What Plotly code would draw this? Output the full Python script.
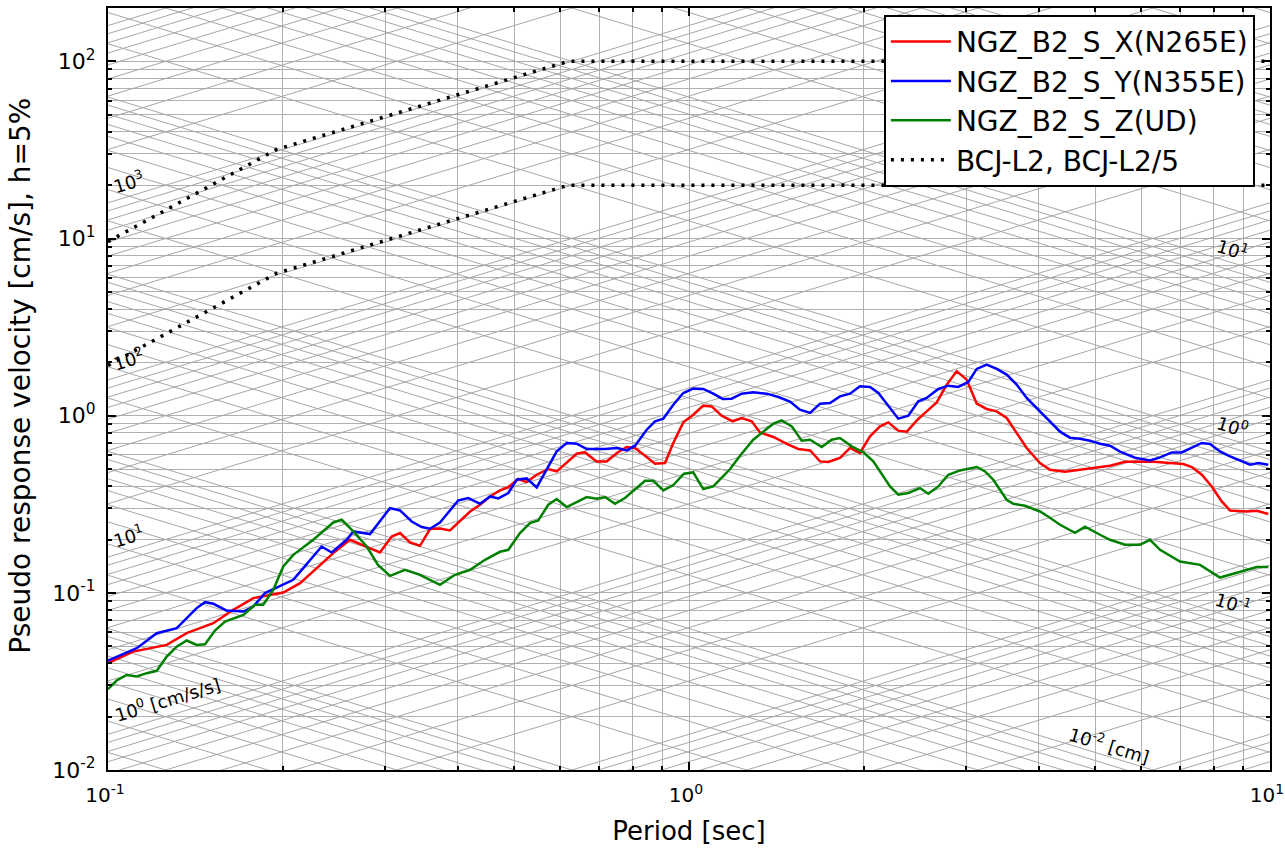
import numpy as np
import plotly.graph_objects as go

# ---------------- data ----------------
period_x = [0.100, 0.1105, 0.1262, 0.1366, 0.1518, 0.1643, 0.1779, 0.2003, 0.2141, 0.2287,
            0.2442, 0.2609, 0.2788, 0.2938, 0.3078, 0.3181, 0.3310, 0.3443, 0.3583, 0.3727,
            0.3878, 0.4035, 0.4200, 0.4369, 0.4545, 0.4728, 0.4887, 0.5084, 0.5256, 0.5469,
            0.5726, 0.5920, 0.6159, 0.6408, 0.6622, 0.6936, 0.7217, 0.7514, 0.7813, 0.8075,
            0.8401, 0.8740, 0.9093, 0.9397, 0.9777, 1.017, 1.058, 1.094, 1.138, 1.189,
            1.232, 1.282, 1.325, 1.397, 1.473, 1.542, 1.616, 1.681, 1.737, 1.819,
            1.893, 1.969, 2.049, 2.132, 2.203, 2.292, 2.370, 2.481, 2.565, 2.669,
            2.777, 2.889, 3.006, 3.128, 3.254, 3.385, 3.522, 3.664, 3.812, 4.019,
            4.181, 4.438, 4.710, 4.999, 5.304, 5.630, 6.216, 6.730, 7.094, 7.335,
            7.632, 7.938, 8.259, 8.535, 9.120, 9.488, 9.933]
psv_x = [0.0401, 0.0466, 0.0508, 0.0592, 0.0674, 0.0802, 0.0934, 0.1004, 0.1134, 0.1379,
         0.1676, 0.1993, 0.1826, 0.1689, 0.2080, 0.2175, 0.1924, 0.1843, 0.2290, 0.2308,
         0.2249, 0.2528, 0.2879, 0.3142, 0.3500, 0.3784, 0.3955, 0.4390, 0.4222, 0.4642,
         0.5000, 0.4846, 0.5448, 0.6100, 0.6205, 0.5519, 0.5519, 0.6156, 0.6657, 0.6571,
         0.5943, 0.5356, 0.5405, 0.7013, 0.9166, 1.013, 1.139, 1.128, 1.000, 0.9286,
         0.9706, 0.9286, 0.8046, 0.7582, 0.6921, 0.6486, 0.6368, 0.5519, 0.5475, 0.5768,
         0.6571, 0.6156, 0.7641, 0.8700, 0.9166, 0.8229, 0.8123, 0.9581, 1.057, 1.189,
         1.497, 1.780, 1.597, 1.169, 1.091, 1.057, 0.9706, 0.7988, 0.6571, 0.5405,
         0.4954, 0.4827, 0.4954, 0.5084, 0.5218, 0.5497, 0.5519, 0.5405, 0.5335, 0.5131,
         0.4642, 0.3986, 0.3280, 0.2917, 0.2879, 0.2906, 0.2784]

period_y = [0.100, 0.1121, 0.1213, 0.1313, 0.1421, 0.1469, 0.1518, 0.1601, 0.1710, 0.1779,
            0.1863, 0.2084, 0.2168, 0.2332, 0.2427, 0.2575, 0.2644, 0.2825, 0.3058, 0.3181,
            0.3332, 0.3467, 0.3583, 0.3727, 0.4008, 0.4171, 0.4369, 0.4545, 0.4697, 0.4887,
            0.5052, 0.5256, 0.5469, 0.5726, 0.5920, 0.6159, 0.6408, 0.6667, 0.7169, 0.7514,
            0.7813, 0.8075, 0.8457, 0.8740, 0.9032, 0.9397, 0.9777, 1.017, 1.058, 1.101,
            1.143, 1.184, 1.232, 1.290, 1.361, 1.425, 1.492, 1.552, 1.616, 1.681,
            1.749, 1.819, 1.893, 1.969, 2.049, 2.118, 2.203, 2.292, 2.385, 2.481,
            2.565, 2.686, 2.795, 2.907, 3.025, 3.128, 3.254, 3.385, 3.522, 3.664,
            3.812, 4.019, 4.181, 4.351, 4.526, 4.710, 4.900, 5.098, 5.304, 5.519,
            5.857, 6.216, 6.468, 6.775, 7.047, 7.335, 7.632, 7.883, 8.202, 8.535,
            8.881, 9.240, 9.548, 9.933]
psv_y = [0.0415, 0.0487, 0.0592, 0.0632, 0.0820, 0.0886, 0.0867, 0.0794, 0.0784, 0.0837,
         0.0996, 0.1184, 0.1379, 0.1826, 0.1689, 0.1993, 0.2220, 0.2146, 0.3010, 0.2917,
         0.2528, 0.2350, 0.2299, 0.2496, 0.3323, 0.3428, 0.3183, 0.3500, 0.3411, 0.3659,
         0.4349, 0.4424, 0.3934, 0.5171, 0.6286, 0.7013, 0.6949, 0.6486, 0.6486, 0.6571,
         0.6368, 0.6770, 0.8334, 0.9286, 0.9619, 1.154, 1.343, 1.421, 1.415, 1.331,
         1.243, 1.247, 1.331, 1.354, 1.331, 1.275, 1.200, 1.081, 1.036, 1.169,
         1.180, 1.285, 1.331, 1.464, 1.453, 1.343, 1.128, 0.9619, 1.000, 1.205,
         1.259, 1.415, 1.477, 1.453, 1.550, 1.836, 1.942, 1.836, 1.705, 1.497,
         1.259, 1.057, 0.9371, 0.8123, 0.7512, 0.7416, 0.7226, 0.6949, 0.6770, 0.6261,
         0.5790, 0.5591, 0.5813, 0.6205, 0.6205, 0.6622, 0.7013, 0.6921, 0.6286, 0.5890,
         0.5569, 0.5287, 0.5405, 0.5287]

period_z = [0.100, 0.1035, 0.1077, 0.1121, 0.1166, 0.1213, 0.1262, 0.1313, 0.1366, 0.1421,
            0.1469, 0.1528, 0.1590, 0.1710, 0.1791, 0.1850, 0.1925, 0.2003, 0.2084, 0.2256,
            0.2442, 0.2525, 0.2644, 0.2788, 0.2915, 0.3058, 0.3245, 0.3443, 0.3727, 0.3956,
            0.4200, 0.4456, 0.4728, 0.4887, 0.5118, 0.5324, 0.5503, 0.5726, 0.5920, 0.6159,
            0.6667, 0.6936, 0.7169, 0.7458, 0.7759, 0.8401, 0.8681, 0.9032, 0.9397, 0.9804,
            1.017, 1.058, 1.101, 1.177, 1.224, 1.290, 1.397, 1.444, 1.503, 1.563,
            1.616, 1.692, 1.760, 1.819, 1.906, 1.995, 2.076, 2.218, 2.292, 2.385,
            2.498, 2.582, 2.686, 2.795, 2.927, 3.128, 3.232, 3.340, 3.522, 3.616,
            3.787, 4.019, 4.181, 4.351, 4.617, 4.804, 5.098, 5.304, 5.630, 5.973,
            6.216, 6.468, 7.000, 7.579, 8.202, 8.881, 9.488, 9.933]
psv_z = [0.0286, 0.0320, 0.0344, 0.0337, 0.0352, 0.0363, 0.0437, 0.0497, 0.0538, 0.0508,
         0.0513, 0.0612, 0.0689, 0.0751, 0.0856, 0.0856, 0.1040, 0.1408, 0.1639, 0.1993,
         0.2496, 0.2585, 0.2220, 0.1826, 0.1439, 0.1247, 0.1349, 0.1264, 0.1110, 0.1264,
         0.1349, 0.1536, 0.1705, 0.1749, 0.2175, 0.2476, 0.2562, 0.3142, 0.3384, 0.3049,
         0.3473, 0.3397, 0.3473, 0.3183, 0.3428, 0.4293, 0.4293, 0.3784, 0.4060, 0.4702,
         0.4783, 0.3853, 0.3986, 0.5000, 0.5943, 0.7318, 0.9012, 0.9406, 0.8700, 0.7226,
         0.7318, 0.6657, 0.7318, 0.7482, 0.6709, 0.6205, 0.5519, 0.3986, 0.3579, 0.3659,
         0.3903, 0.3626, 0.3986, 0.4642, 0.4909, 0.5131, 0.4846, 0.4349, 0.3353, 0.3183,
         0.3101, 0.2879, 0.2652, 0.2423, 0.2183, 0.2360, 0.2127, 0.1993, 0.1867, 0.1867,
         0.1993, 0.1749, 0.1503, 0.1439, 0.1220, 0.1319, 0.1397, 0.1397]

bcj_period = [0.1, 0.195, 0.62, 10.0]
bcj_psv = [9.6, 31.8, 100.0, 100.0]
bcj_divisor = 5.0

series_names = ["NGZ_B2_S_X(N265E)", "NGZ_B2_S_Y(N355E)", "NGZ_B2_S_Z(UD)"]
series_colors = ["#ff0000", "#0000ff", "#008000"]
bcj_name = "BCJ-L2, BCJ-L2/5"

x_tickvals = [0.1, 1, 10]
x_ticktext = ["10<sup>-1</sup>", "10<sup>0</sup>", "10<sup>1</sup>"]
y_tickvals = [0.01, 0.1, 1, 10, 100]
y_ticktext = ["10<sup>-2</sup>", "10<sup>-1</sup>", "10<sup>0</sup>", "10<sup>1</sup>", "10<sup>2</sup>"]
x_title = "Period [sec]"
y_title = "Pseudo response velocity [cm/s], h=5%"

# tripartite grid: displacement [cm] and acceleration [cm/s/s] levels
disp_levels = [k * 10.0 ** n for n in range(-4, 4) for k in range(1, 10)]
acc_levels = [k * 10.0 ** n for n in range(-3, 5) for k in range(1, 10)]
acc_labels = [(1000, "10<sup>3</sup>"), (100, "10<sup>2</sup>"), (10, "10<sup>1</sup>"),
              (1, "10<sup>0</sup> [cm/s/s]")]
disp_labels = [(10, "10<sup>1</sup>"), (1, "10<sup>0</sup>"), (0.1, "10<sup>-1</sup>"),
               (0.01, "10<sup>-2</sup> [cm]")]

X_RANGE = (0.1, 10.0)
Y_RANGE = (0.01, 200.0)
FONT = "DejaVu Sans"
GRID = "#b0b0b0"
DIAG = "#a6a6a6"

fig = go.Figure()

# diagonal lines
tpi = 2 * np.pi
dx, dy = [], []
for d in disp_levels:
    for t in X_RANGE:
        dx.append(t); dy.append(tpi * d / t)
    dx.append(None); dy.append(None)
fig.add_trace(go.Scatter(x=dx, y=dy, mode="lines", line=dict(color=DIAG, width=1),
                         hoverinfo="skip", showlegend=False))
ax_, ay_ = [], []
for a in acc_levels:
    for t in X_RANGE:
        ax_.append(t); ay_.append(a * t / tpi)
    ax_.append(None); ay_.append(None)
fig.add_trace(go.Scatter(x=ax_, y=ay_, mode="lines", line=dict(color=DIAG, width=1),
                         hoverinfo="skip", showlegend=False))

# response spectra
for per, val, name, col in zip([period_x, period_y, period_z], [psv_x, psv_y, psv_z],
                               series_names, series_colors):
    fig.add_trace(go.Scatter(x=per, y=val, mode="lines", name=name,
                             line=dict(color=col, width=2.5)))

# BCJ-L2 design spectra
fig.add_trace(go.Scatter(x=bcj_period, y=bcj_psv, mode="lines", name=bcj_name,
                         line=dict(color="black", width=3.5, dash="3px,7px")))
fig.add_trace(go.Scatter(x=bcj_period, y=[v / bcj_divisor for v in bcj_psv], mode="lines",
                         name=bcj_name, showlegend=False,
                         line=dict(color="black", width=3.5, dash="3px,7px")))

# labels on the diagonal lines
ang = 17
annos = []
t_acc = 0.1083
for a, txt in acc_labels:
    t = 0.1265 if "cm" in txt else t_acc
    off = 0.095 if "cm" in txt else 0.085
    v = a * t / tpi
    annos.append(dict(x=np.log10(t), y=np.log10(v) + off, text=txt, showarrow=False,
                      textangle=-ang, font=dict(family=FONT, size=18, color="black"),
                      xref="x", yref="y"))
for d, txt in disp_labels:
    t = 5.30 if "cm" in txt else 8.63
    off = 0.068 if "cm" in txt else 0.078
    v = tpi * d / t
    annos.append(dict(x=np.log10(t), y=np.log10(v) + off, text=txt, showarrow=False,
                      textangle=ang, font=dict(family=FONT, size=18, color="black"),
                      xref="x", yref="y"))

# y-axis title placed beside the tick labels
annos.append(dict(x=-0.076, y=0.517, xref="paper", yref="paper", text=y_title,
                  showarrow=False, textangle=-90, xanchor="center", yanchor="middle",
                  font=dict(family=FONT, size=28, color="black")))

def minor_vals(lo, hi):
    out = []
    for n in range(lo, hi):
        for k in range(2, 10):
            out.append(k * 10.0 ** n)
    return out

axis_common = dict(type="log", showline=True, linecolor="black", linewidth=2, mirror="ticks",
                   ticks="inside", ticklen=8, tickwidth=1.5, tickcolor="black",
                   showgrid=True, gridcolor=GRID, gridwidth=1.2, zeroline=False,
                   ticklabelstandoff=6, ticklabeloverflow="allow")

fig.update_xaxes(range=[np.log10(X_RANGE[0]), np.log10(X_RANGE[1])],
                 tickmode="array", tickvals=x_tickvals, ticktext=x_ticktext,
                 tickfont=dict(family=FONT, size=20, color="black"), ticklabelshift=-3,
                 minor=dict(tickmode="array", tickvals=minor_vals(-1, 1), ticks="inside",
                            ticklen=4, tickcolor="black", showgrid=True, gridcolor=GRID,
                            gridwidth=1.2),
                 title=dict(text=x_title, font=dict(family=FONT, size=26, color="black"),
                            standoff=16),
                 **axis_common)
fig.update_yaxes(range=[np.log10(Y_RANGE[0]), np.log10(Y_RANGE[1])],
                 tickmode="array", tickvals=y_tickvals, ticktext=y_ticktext,
                 tickfont=dict(family=FONT, size=22, color="black"),
                 minor=dict(tickmode="array", tickvals=minor_vals(-2, 3), ticks="inside",
                            ticklen=4, tickcolor="black", showgrid=True, gridcolor=GRID,
                            gridwidth=1.2),
                 **axis_common)

fig.update_layout(
    width=1285, height=848,
    margin=dict(l=108, r=15, t=8, b=78, autoexpand=False),
    paper_bgcolor="white", plot_bgcolor="white",
    font=dict(family=FONT, color="black"),
    annotations=annos,
    legend=dict(x=0.987, y=0.991, xanchor="right", yanchor="top",
                bgcolor="white", bordercolor="black", borderwidth=2,
                font=dict(family=FONT, size=28, color="black"), itemwidth=60,
                tracegroupgap=0),
)

fig.write_html("out.html", config={"displayModeBar": False},
               post_script="document.body.style.margin='0px';")
